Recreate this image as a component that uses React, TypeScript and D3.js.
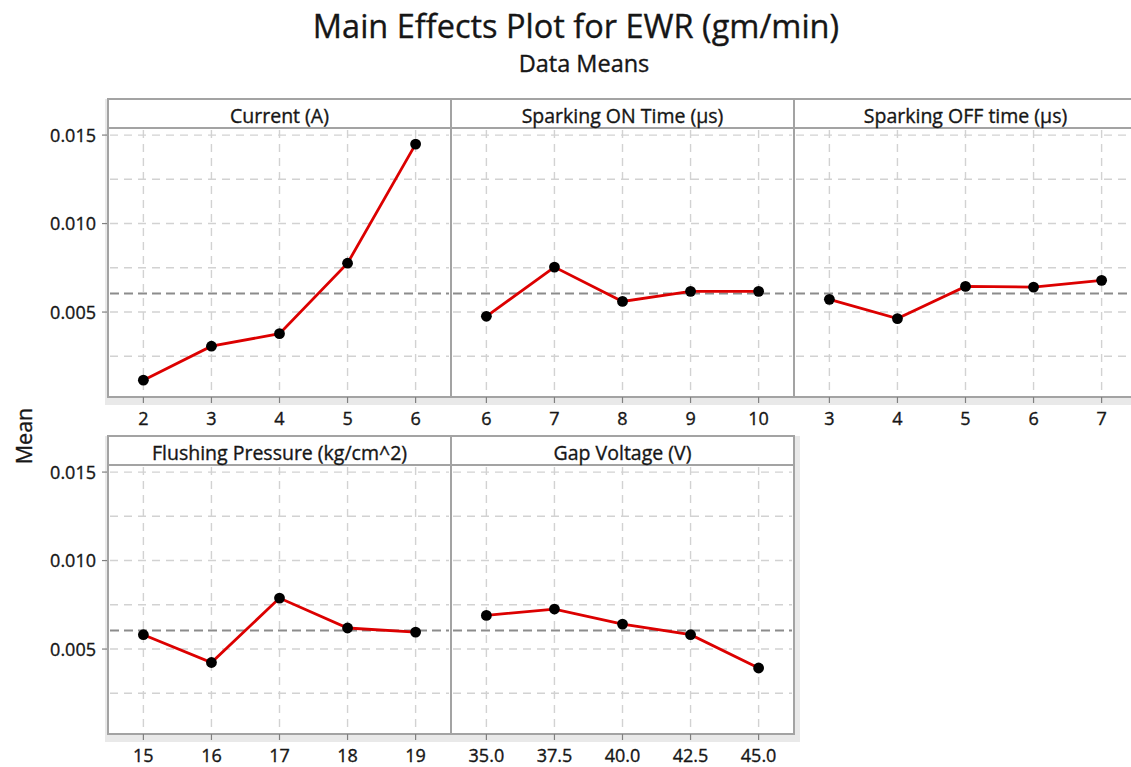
import React from "react";
import * as d3 from "d3";

// Factor names and their levels / EWR means
const factorNames = [
  "Current (A)",
  "Sparking ON Time (μs)",
  "Sparking OFF time (μs)",
  "Flushing Pressure (kg/cm^2)",
  "Gap Voltage (V)",
];

const currentLevels = ["2", "3", "4", "5", "6"];
const currentMeans = [0.00115, 0.00307, 0.00378, 0.00776, 0.01449];

const onTimeLevels = ["6", "7", "8", "9", "10"];
const onTimeMeans = [0.00476, 0.00754, 0.0056, 0.00617, 0.00617];

const offTimeLevels = ["3", "4", "5", "6", "7"];
const offTimeMeans = [0.00572, 0.00463, 0.00645, 0.00641, 0.00679];

const pressureLevels = ["15", "16", "17", "18", "19"];
const pressureMeans = [0.00581, 0.00424, 0.00788, 0.00619, 0.00596];

const voltageLevels = ["35.0", "37.5", "40.0", "42.5", "45.0"];
const voltageMeans = [0.0069, 0.00726, 0.00641, 0.00581, 0.00393];

const grandMean = 0.00605;

const yTickValues = [0.005, 0.01, 0.015];
const yGridValues = [0.0025, 0.005, 0.0075, 0.01, 0.0125, 0.015];

const titleText = "Main Effects Plot for EWR (gm/min)";
const subtitleText = "Data Means";
const yAxisLabel = "Mean";

// Layout
const W = 1131;
const H = 767;
const left0 = 108;
const panelW = 343;
const rowTops = [99, 436];
const headerH = 29;
const plotH = 269;
const font = "'Open Sans', 'Noto Sans', sans-serif";
const ink = "#161616";
const frameColor = "#a3a3a3";
const gridColor = "#d2d2d2";
const textStroke = { stroke: ink, strokeWidth: 0.35 };

const panels = [
  { name: factorNames[0], levels: currentLevels, means: currentMeans, row: 0, col: 0 },
  { name: factorNames[1], levels: onTimeLevels, means: onTimeMeans, row: 0, col: 1 },
  { name: factorNames[2], levels: offTimeLevels, means: offTimeMeans, row: 0, col: 2 },
  { name: factorNames[3], levels: pressureLevels, means: pressureMeans, row: 1, col: 0 },
  { name: factorNames[4], levels: voltageLevels, means: voltageMeans, row: 1, col: 1 },
];

export default function App() {
  const rows = [0, 1].map((r) => {
    const n = panels.filter((p) => p.row === r).length;
    const top = rowTops[r];
    const plotTop = top + headerH;
    const plotBottom = plotTop + plotH;
    const y = d3.scaleLinear().domain([0.0002, 0.0154]).range([plotBottom, plotTop]);
    return { r, n, top, plotTop, plotBottom, y };
  });

  return (
    <svg width={W} height={H} style={{ display: "block", position: "absolute", left: 0, top: 0 }} fontFamily={font}>
      <rect width={W} height={H} fill="#ffffff" />
      <text x={576} y={38} textAnchor="middle" fontSize={32.5} fill={ink} {...textStroke}>
        {titleText}
      </text>
      <text x={584} y={72} textAnchor="middle" fontSize={23.5} fill={ink} {...textStroke}>
        {subtitleText}
      </text>
      <text
        transform={`translate(32,436) rotate(-90)`}
        textAnchor="middle"
        fontSize={21.5}
        fill={ink}
        {...textStroke}
      >
        {yAxisLabel}
      </text>

      {rows.map((row) => {
        const right = left0 + row.n * panelW;
        return (
          <g key={`row${row.r}`}>
            {/* light band beneath the row frame */}
            <rect
              x={left0 - 3}
              y={row.top}
              width={right - left0 + 9}
              height={row.plotBottom - row.top + 8}
              fill="#e9e9e9"
            />
            <rect x={left0} y={row.top} width={right - left0} height={row.plotBottom - row.top} fill="#ffffff" />
            {/* y ticks and labels */}
            {yTickValues.map((v) => (
              <g key={v}>
                <line x1={left0 - 6} x2={left0} y1={row.y(v)} y2={row.y(v)} stroke="#808080" strokeWidth={1.2} />
                <text
                  x={left0 - 12}
                  y={row.y(v)}
                  dy="0.36em"
                  textAnchor="end"
                  fontSize={18}
                  fill={ink}
                  {...textStroke}
                >
                  {d3.format(".3f")(v)}
                </text>
              </g>
            ))}
          </g>
        );
      })}

      {panels.map((p) => {
        const row = rows[p.row];
        const x0 = left0 + p.col * panelW;
        const x1 = x0 + panelW;
        const x = d3.scalePoint<string>().domain(p.levels).range([x0, x1]).padding(0.52);
        const y = row.y;
        const line = d3
          .line<number>()
          .x((_, i) => x(p.levels[i]) as number)
          .y((d) => y(d));
        return (
          <g key={p.name}>
            {/* grid */}
            {yGridValues.map((v) => (
              <line
                key={`h${v}`}
                x1={x0 + 2}
                x2={x1 - 2}
                y1={y(v)}
                y2={y(v)}
                stroke={gridColor}
                strokeWidth={1.4}
                strokeDasharray="8,6"
              />
            ))}
            {p.levels.map((l) => (
              <line
                key={`v${l}`}
                x1={x(l)}
                x2={x(l)}
                y1={row.plotTop + 2}
                y2={row.plotBottom}
                stroke={gridColor}
                strokeWidth={1.4}
                strokeDasharray="8,6"
              />
            ))}
            {/* grand mean reference */}
            <line
              x1={x0 + 2}
              x2={x1 - 2}
              y1={y(grandMean)}
              y2={y(grandMean)}
              stroke="#8c8c8c"
              strokeWidth={2}
              strokeDasharray="9,5"
            />
            {/* frame */}
            <rect
              x={x0}
              y={row.top}
              width={panelW}
              height={row.plotBottom - row.top}
              fill="none"
              stroke={frameColor}
              strokeWidth={2}
            />
            <line x1={x0} x2={x1} y1={row.plotTop} y2={row.plotTop} stroke={frameColor} strokeWidth={2} />
            <text
              x={(x0 + x1) / 2}
              y={row.top + 24}
              textAnchor="middle"
              fontSize={19.5}
              fill={ink}
              {...textStroke}
            >
              {p.name}
            </text>
            {/* x ticks and labels */}
            {p.levels.map((l) => (
              <g key={`t${l}`}>
                <line
                  x1={x(l)}
                  x2={x(l)}
                  y1={row.plotBottom}
                  y2={row.plotBottom + 6}
                  stroke="#808080"
                  strokeWidth={1.2}
                />
                <text
                  x={x(l)}
                  y={row.plotBottom + 28}
                  textAnchor="middle"
                  fontSize={18}
                  fill={ink}
                  {...textStroke}
                >
                  {l}
                </text>
              </g>
            ))}
            {/* effect line and points */}
            <path d={line(p.means) || ""} fill="none" stroke="#dc0000" strokeWidth={2.8} />
            {p.means.map((m, i) => (
              <circle key={`c${i}`} cx={x(p.levels[i])} cy={y(m)} r={5.4} fill="#000000" />
            ))}
          </g>
        );
      })}
    </svg>
  );
}
